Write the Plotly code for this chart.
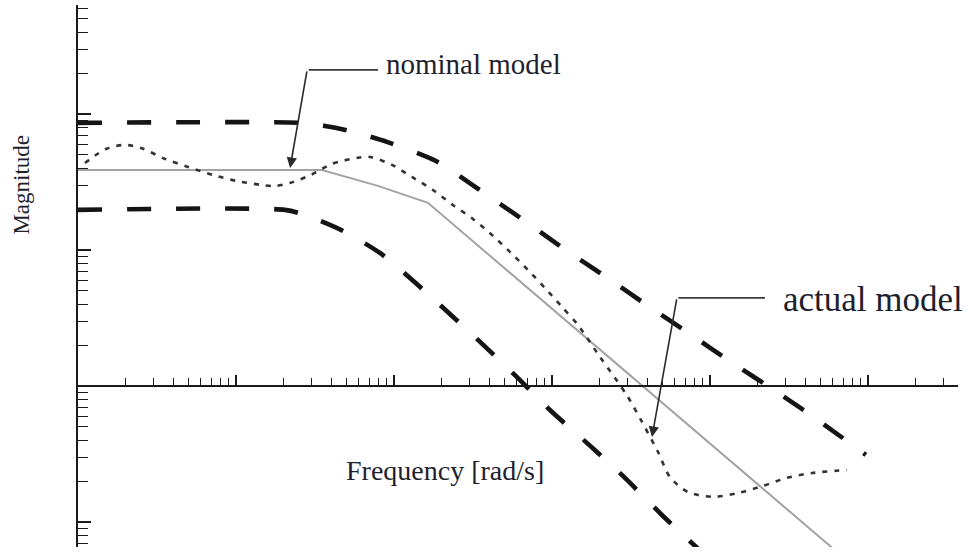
import numpy as np
import plotly.graph_objects as go

# ---- data: frequency [rad/s] and magnitude (linear units) ----
nominal_w = [1.0, 35.0, 79.2, 164, 62700]
nominal_mag = [38.7, 38.7, 29.6, 22.2, 0.0612]

upper_w = [1.0, 25.4, 36.6, 52.7, 90.3, 184.5, 355.5, 645.7, 1191, 2197,
           4055, 7470, 13580, 25420, 46200, 97100]
upper_mag = [85.9, 85.9, 81.6, 75.0, 62.3, 45.1, 27.2, 16.9, 10.2, 6.33,
             3.88, 2.41, 1.50, 0.934, 0.582, 0.311]

lower_w = [1.0, 20.4, 27.3, 47.6, 81.5, 126.3, 195.5, 340, 583, 971,
           1690, 2897, 4968, 9572]
lower_mag = [19.7, 19.7, 18.1, 13.8, 9.50, 6.22, 3.94, 2.18, 1.20, 0.666,
             0.375, 0.211, 0.1125, 0.0553]

actual_w = [1.107, 1.504, 1.955, 2.505, 3.554, 4.968, 7.15, 10.0, 14.4, 17.7,
            22.0, 29.8, 40.5, 58.3, 70.5, 97.1, 130, 176.5, 236, 316,
            417, 542, 705, 903, 1157, 1462, 2014, 2505, 3027, 3715,
            4690, 5585, 7260, 10450, 15040, 21640, 30700, 44200, 73600]
actual_mag = [43.6, 55.3, 59.2, 56.2, 46.7, 40.8, 35.6, 32.2, 30.1, 29.5,
              31.1, 35.6, 42.9, 47.5, 48.3, 42.2, 34.4, 27.6, 21.4, 16.9,
              12.9, 9.67, 7.13, 5.26, 3.81, 2.81, 1.63, 1.145, 0.830, 0.544,
              0.327, 0.214, 0.166, 0.153, 0.163, 0.184, 0.211, 0.229, 0.241]

# axis decades and tick marks
x_decades = [1, 10, 100, 1000, 10000, 100000]
y_decades = [0.1, 1, 10, 100]
x_minor = [m * d for d in x_decades for m in range(2, 10)]
y_minor = [m * d for d in [0.01] + y_decades for m in range(2, 10)]

# label leader points (frequency, magnitude)
nom_tip = (22.0, 40.1)
nom_bend = (28.2, 211.0)
nom_end = (79.2, 211.0)
act_tip = (4295, 0.422)
act_bend = (6180, 4.44)
act_end = (22280, 4.44)

fig = go.Figure()

fig.add_trace(go.Scatter(
    x=nominal_w, y=nominal_mag, mode="lines",
    line=dict(color="#a3a3a3", width=2), hoverinfo="skip"))
fig.add_trace(go.Scatter(
    x=upper_w, y=upper_mag, mode="lines",
    line=dict(color="#141414", width=4.6, dash="24px,25px",
              shape="spline", smoothing=0.7), hoverinfo="skip"))
fig.add_trace(go.Scatter(
    x=lower_w, y=lower_mag, mode="lines",
    line=dict(color="#141414", width=4.6, dash="24px,25px",
              shape="spline", smoothing=0.7), hoverinfo="skip"))
fig.add_trace(go.Scatter(
    x=actual_w, y=actual_mag, mode="lines",
    line=dict(color="#333333", width=2.6, dash="5px,7px",
              shape="spline", smoothing=0.8), hoverinfo="skip"))

L = np.log10
text_font = dict(family="Liberation Serif, Times New Roman, serif", color="#1f1f2e")

annotations = [
    # leader: nominal model
    dict(x=L(nom_end[0]), y=L(nom_end[1]), ax=L(nom_bend[0]), ay=L(nom_bend[1]),
         xref="x", yref="y", axref="x", ayref="y", text="", showarrow=True,
         arrowhead=0, arrowwidth=1.6, arrowcolor="#3a3a3a", standoff=0),
    dict(x=L(nom_tip[0]), y=L(nom_tip[1]), ax=L(nom_bend[0]), ay=L(nom_bend[1]),
         xref="x", yref="y", axref="x", ayref="y", text="", showarrow=True,
         arrowhead=2, arrowsize=1.3, arrowwidth=1.6, arrowcolor="#2a2a2a", standoff=0),
    # leader: actual model
    dict(x=L(act_end[0]), y=L(act_end[1]), ax=L(act_bend[0]), ay=L(act_bend[1]),
         xref="x", yref="y", axref="x", ayref="y", text="", showarrow=True,
         arrowhead=0, arrowwidth=1.6, arrowcolor="#3a3a3a", standoff=0),
    dict(x=L(act_tip[0]), y=L(act_tip[1]), ax=L(act_bend[0]), ay=L(act_bend[1]),
         xref="x", yref="y", axref="x", ayref="y", text="", showarrow=True,
         arrowhead=2, arrowsize=1.3, arrowwidth=1.6, arrowcolor="#2a2a2a", standoff=0),
    # labels
    dict(x=L(nom_end[0]) + 0.04, y=L(nom_end[1]) + 0.04, xref="x", yref="y",
         text="nominal model", showarrow=False, xanchor="left", yanchor="middle",
         font=dict(size=29, **text_font)),
    dict(x=L(act_end[0]) + 0.1, y=L(act_end[1]) - 0.01, xref="x", yref="y",
         text="actual model", showarrow=False, xanchor="left", yanchor="middle",
         font=dict(size=35, **text_font)),
    dict(x=0.417, y=0.142, xref="paper", yref="paper",
         text="Frequency [rad/s]", showarrow=False, xanchor="center", yanchor="middle",
         font=dict(size=28, **text_font)),
    dict(x=-0.064, y=0.668, xref="paper", yref="paper",
         text="Magnitude", showarrow=False, textangle=-90,
         xanchor="center", yanchor="middle",
         font=dict(size=23, **text_font)),
]

fig.update_layout(
    width=968, height=558, autosize=False,
    margin=dict(l=78, r=10, t=5, b=11),
    paper_bgcolor="white", plot_bgcolor="white",
    showlegend=False,
    annotations=annotations,
    xaxis=dict(
        type="log", range=[0, 5.57], anchor="free", position=0.297,
        showline=True, linecolor="#1a1a1a", linewidth=2,
        ticks="inside", ticklen=10, tickwidth=1.5, tickcolor="#1a1a1a",
        tickmode="array", tickvals=x_decades, showticklabels=False,
        showgrid=False, zeroline=False,
        minor=dict(ticks="inside", ticklen=7, tickwidth=1.3, tickcolor="#1a1a1a",
                   tickmode="array", tickvals=x_minor, showgrid=False),
    ),
    yaxis=dict(
        type="log", range=[-1.184, 2.801],
        showline=True, linecolor="#1a1a1a", linewidth=2,
        ticks="inside", ticklen=13, tickwidth=1.5, tickcolor="#1a1a1a",
        tickmode="array", tickvals=y_decades, showticklabels=False,
        showgrid=False, zeroline=False,
        minor=dict(ticks="inside", ticklen=10, tickwidth=1.3, tickcolor="#1a1a1a",
                   tickmode="array", tickvals=y_minor, showgrid=False),
    ),
)

fig.write_html("out.html")
